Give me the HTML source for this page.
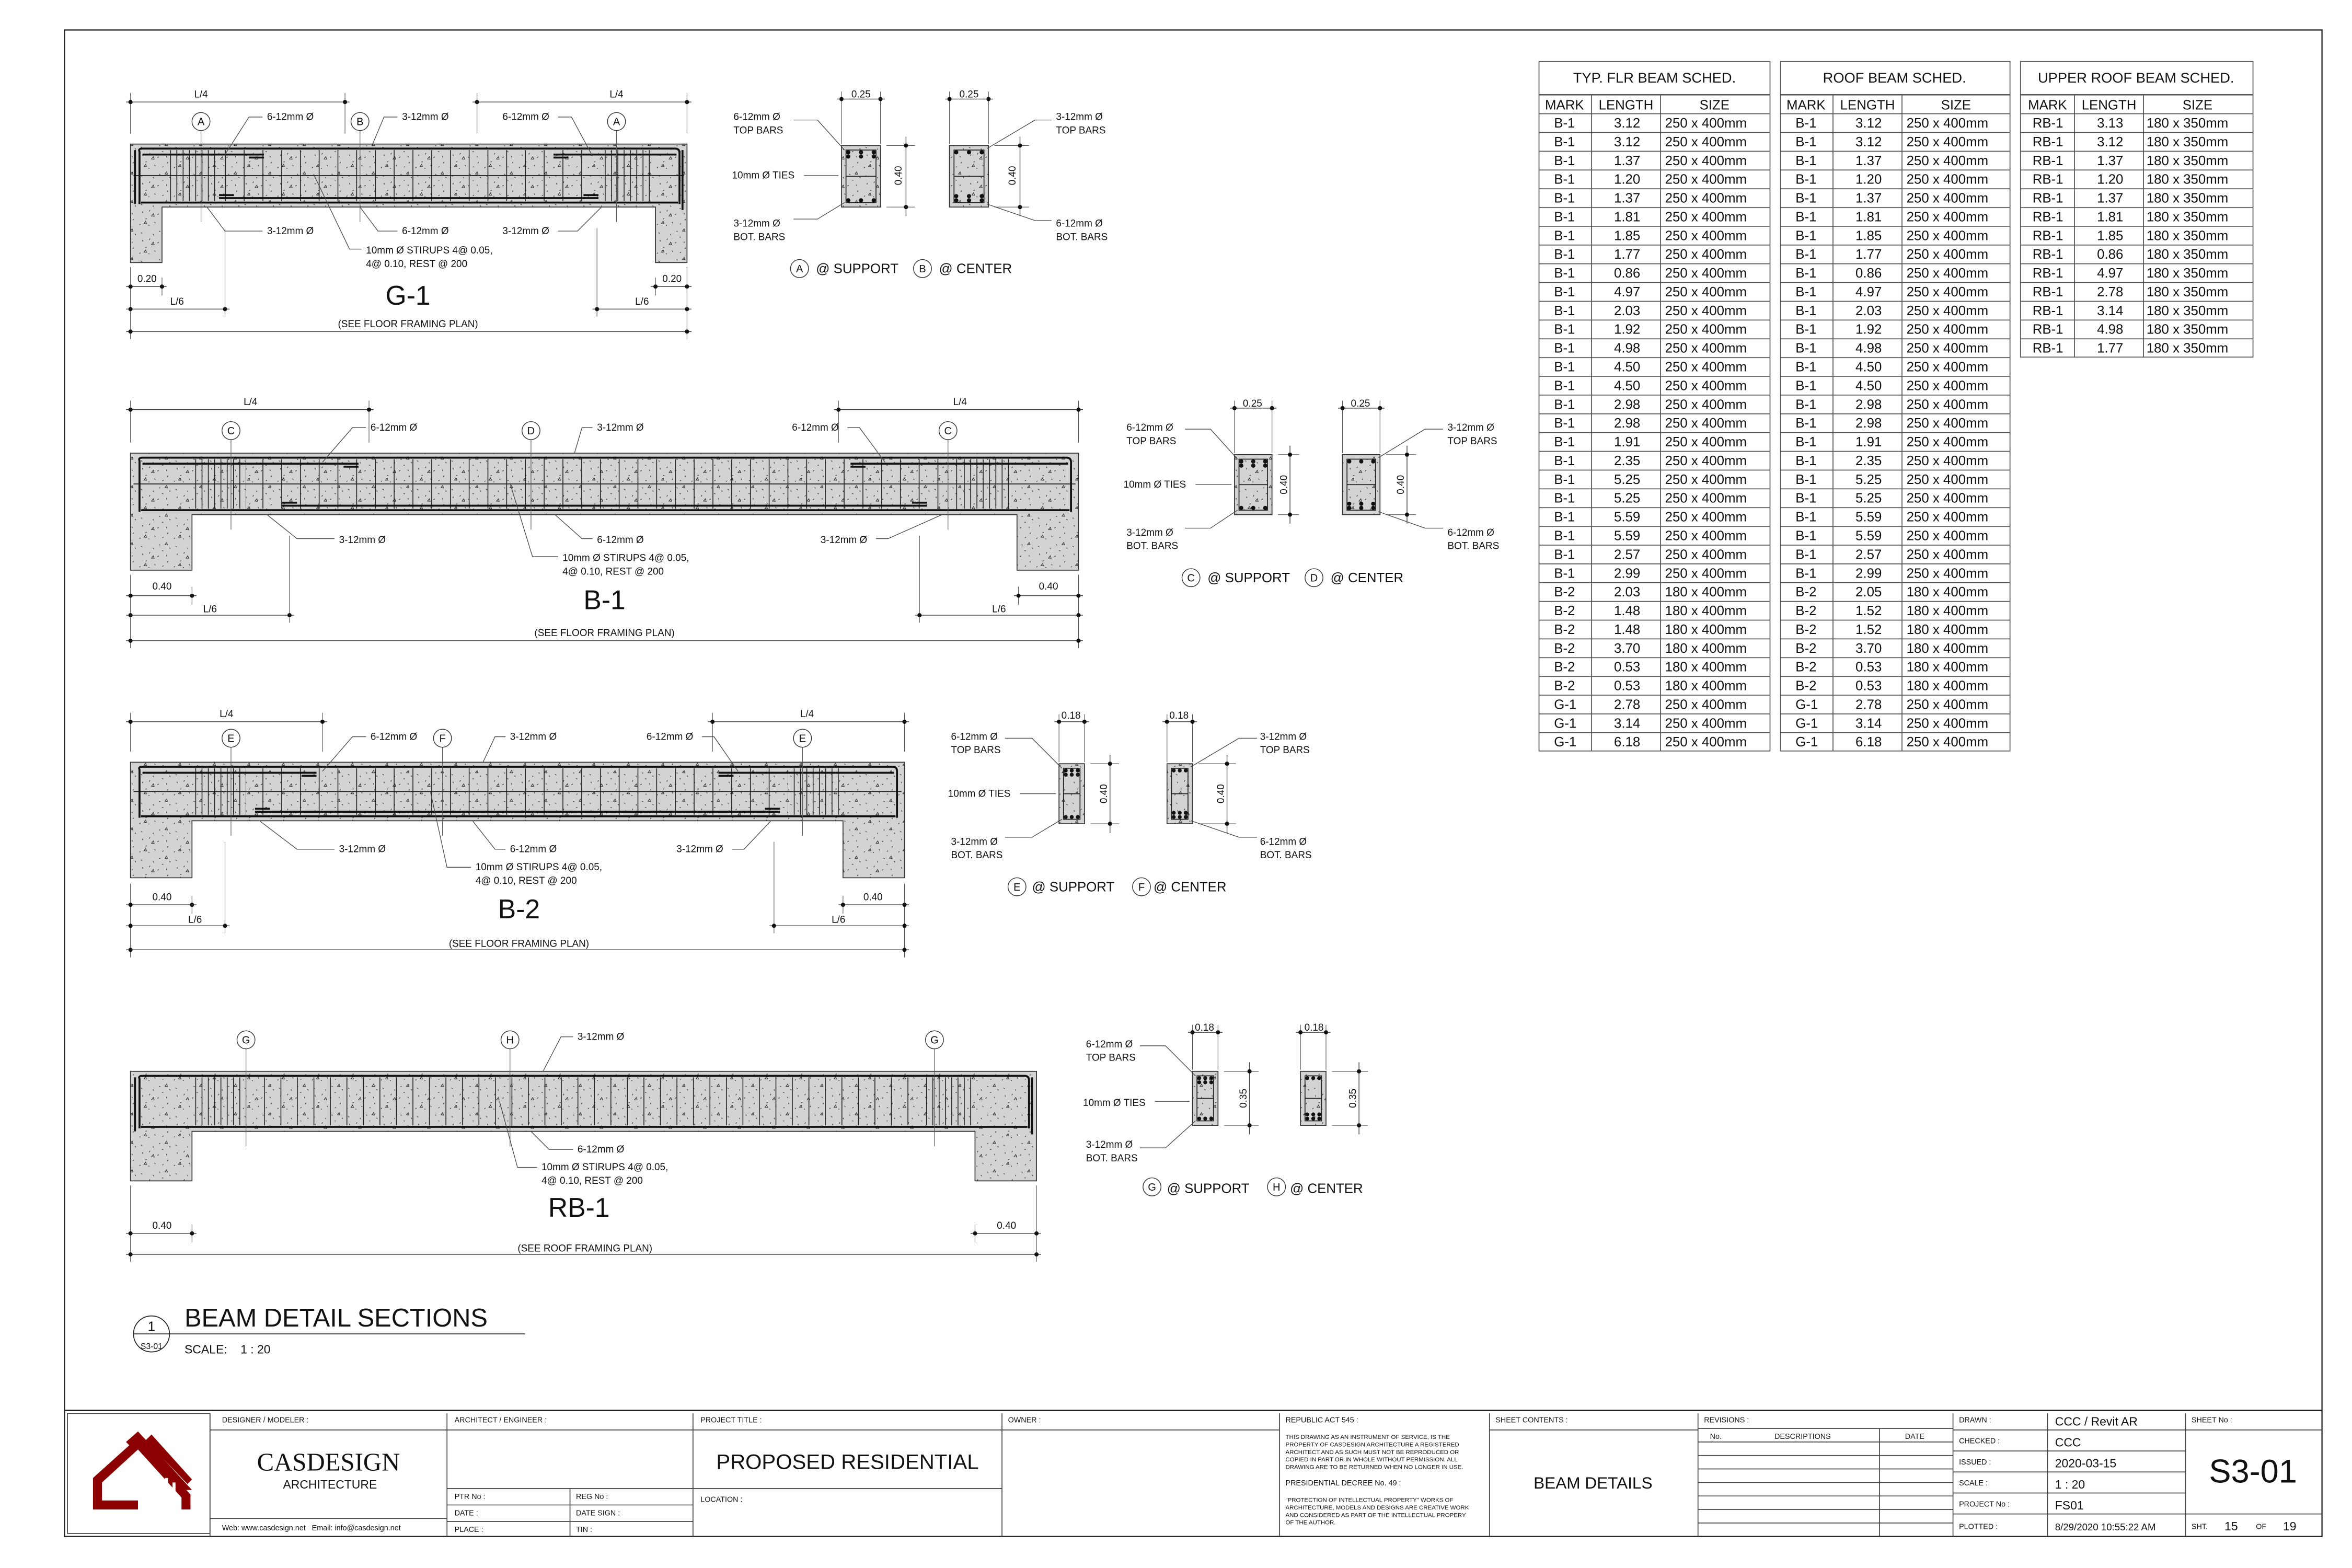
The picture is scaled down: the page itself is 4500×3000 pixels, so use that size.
<!DOCTYPE html>
<html><head><meta charset="utf-8">
<style>
html,body{margin:0;padding:0;background:#fff}
svg{display:block}
text{font-family:"Liberation Sans",Arial,sans-serif;fill:#111}
.s{font-size:6.6px}
.t{font-size:9px}
.ce{text-anchor:middle}
.ld{stroke:#444;stroke-width:.45;fill:none}
.ex{stroke:#555;stroke-width:.4;fill:none}
.dm{stroke:#444;stroke-width:.5;fill:none}
.rb{stroke:#111;stroke-width:1.3;fill:none}
.cn{fill:url(#conc);stroke:#333;stroke-width:.6}
.bb{fill:#fff;stroke:#333;stroke-width:.5}
.tl{stroke:#555;stroke-width:.6;fill:none}
</style></head><body>
<svg width="4500" height="3000" viewBox="0 0 1568 1045" preserveAspectRatio="none" xmlns="http://www.w3.org/2000/svg">
<defs>
<pattern id="conc" patternUnits="userSpaceOnUse" width="23" height="19">
<rect width="23" height="19" fill="#d3d3d3"/>
<path d="M2 3l.9 .6M8 7l-.5 .9M14 2l.8 .3M19 9l.2 .9M5 13l.9 -.3M11 15l.5 .8M17 16l-.7 .5M21 4l.6 .6M3 8l.2 .9M13 10l.8 -.5M7 17l.6 .3M20 13l-.4 .8M10 4l.3 .8M16 6l.9 .1M1 17l.6 -.6" stroke="#222" stroke-width=".4"/>
<path d="M9 11l1.2 -1.6l.6 1.7zM18 2l1.1 -1.5l.6 1.6zM4 16l1.1 -1.5l.6 1.6z" stroke="#222" stroke-width=".35" fill="none"/>
</pattern>
<pattern id="st4" patternUnits="userSpaceOnUse" x="0" width="4.2" height="10"><rect x="0" width=".55" height="10" fill="#222"/></pattern>
<pattern id="st12" patternUnits="userSpaceOnUse" width="12.5" height="10"><rect x="0" width=".55" height="10" fill="#222"/></pattern>
<pattern id="st10" patternUnits="userSpaceOnUse" width="11" height="10"><rect x="0" width=".55" height="10" fill="#222"/></pattern>
<pattern id="rows" patternUnits="userSpaceOnUse" x="0" y="63" width="10" height="12.5"><rect width="10" height=".6" fill="#555"/></pattern>
<circle id="d" r="1.4" fill="#111"/>
</defs>
<rect width="1568" height="1045" fill="#fff"/>
<rect x="43" y="20" width="1505" height="1004" fill="none" stroke="#222" stroke-width="0.8"/>
<line x1="43" y1="940" x2="1548" y2="940" stroke="#222" stroke-width="1"/>

<!-- ===== G-1 ===== -->
<path class="cn" d="M87 96H458V175H437V138H108V175H87Z"/>
<rect x="110" y="100" width="34" height="34" fill="url(#st4)"/>
<rect x="401" y="100" width="34" height="34" fill="url(#st4)"/>
<rect x="146" y="100" width="254" height="34" fill="url(#st12)"/>
<line x1="89" y1="117" x2="456" y2="117" stroke="#222" stroke-width=".6"/>
<path class="rb" d="M93 136V101Q92 99 95 99H450Q453 99 453 102V136M94 135H452M95 103H176M369 103H451M146 132H399M166 105H176M369 105H379M146 130H156M389 130H399M90 100V136M455 100V140"/>
<g class="dm"><path d="M84 68H233M315 68H461M84 191H111M434 191H461M84 206H153M395 206H461M84 221H461"/></g>
<g class="ex"><path d="M87 62V89M230 62V89M318 62V89M458 62V89M87 178V226M458 178V226M108 185V197M437 185V197M150 152V211M398 152V211"/></g>
<g><use href="#d" x="87" y="68"/><use href="#d" x="230" y="68"/><use href="#d" x="318" y="68"/><use href="#d" x="458" y="68"/>
<use href="#d" x="87" y="191"/><use href="#d" x="108" y="191"/><use href="#d" x="437" y="191"/><use href="#d" x="458" y="191"/>
<use href="#d" x="87" y="206"/><use href="#d" x="150" y="206"/><use href="#d" x="398" y="206"/><use href="#d" x="458" y="206"/>
<use href="#d" x="87" y="221"/><use href="#d" x="458" y="221"/></g>
<path class="ex" d="M134 87V148M240 87V148M411 87V148"/>
<path class="ld" d="M175 78H166L150 103M265 78H256L248 97M372 78H381L395 104M175 154H150L138 138M265 154H252L240 138M372 154H385L401 138M241 166H233L209 116"/>

<!-- ===== B-1 ===== -->
<path class="cn" d="M87 302H719V380H678V343H128V380H87Z"/>
<rect x="130" y="306" width="34" height="33" fill="url(#st4)"/>
<rect x="642" y="306" width="34" height="33" fill="url(#st4)"/>
<rect x="166" y="306" width="475" height="33" fill="url(#st12)"/>
<line x1="89" y1="322.5" x2="717" y2="322.5" stroke="#222" stroke-width=".6"/>
<path class="rb" d="M93 341V307Q92 305 95 305H711Q714 305 714 308V341M94 340H713M95 309H239M567 309H712M188 337H618M229 311H239M567 311H577M188 335H198M608 335H618"/>
<g class="dm"><path d="M84 273H249M556 273H722M84 397H131M676 397H722M84 410H196M610 410H722M84 427H722"/></g>
<g class="ex"><path d="M87 267V295M246 267V295M559 267V295M719 267V295M87 383V432M719 383V432M128 391V403M679 391V403M193 357V415M613 357V415"/></g>
<g><use href="#d" x="87" y="273"/><use href="#d" x="246" y="273"/><use href="#d" x="559" y="273"/><use href="#d" x="719" y="273"/>
<use href="#d" x="87" y="397"/><use href="#d" x="128" y="397"/><use href="#d" x="679" y="397"/><use href="#d" x="719" y="397"/>
<use href="#d" x="87" y="410"/><use href="#d" x="193" y="410"/><use href="#d" x="613" y="410"/><use href="#d" x="719" y="410"/>
<use href="#d" x="87" y="427"/><use href="#d" x="719" y="427"/></g>
<path class="ex" d="M154 293V353M354 293V353M632 293V353"/>
<path class="ld" d="M244 285H235L215 308M395 285H388L383 302M565 285H573L590 308M223 359H198L178 343M395 359H388L370 343M584 359H592L628 343M372 371H355L340 322"/>

<!-- ===== B-2 ===== -->
<path class="cn" d="M87 508H603V585H562V547H128V585H87Z"/>
<rect x="130" y="512" width="34" height="31" fill="url(#st4)"/>
<rect x="526" y="512" width="34" height="31" fill="url(#st4)"/>
<rect x="166" y="512" width="359" height="31" fill="url(#st12)"/>
<line x1="89" y1="527.5" x2="601" y2="527.5" stroke="#222" stroke-width=".6"/>
<path class="rb" d="M93 545V513Q92 511 95 511H595Q598 511 598 514V545M94 544H597M95 515H211M479 515H596M170 541H520M201 517H211M479 517H489M170 539H180M510 539H520"/>
<g class="dm"><path d="M84 481H218M472 481H606M84 603H131M559 603H606M84 617H153M513 617H606M84 633H606"/></g>
<g class="ex"><path d="M87 475V501M215 475V501M475 475V501M603 475V501M87 589V638M603 589V638M128 597V609M562 597V609M150 561V622M516 561V622"/></g>
<g><use href="#d" x="87" y="481"/><use href="#d" x="215" y="481"/><use href="#d" x="475" y="481"/><use href="#d" x="603" y="481"/>
<use href="#d" x="87" y="603"/><use href="#d" x="128" y="603"/><use href="#d" x="562" y="603"/><use href="#d" x="603" y="603"/>
<use href="#d" x="87" y="617"/><use href="#d" x="150" y="617"/><use href="#d" x="516" y="617"/><use href="#d" x="603" y="617"/>
<use href="#d" x="87" y="633"/><use href="#d" x="603" y="633"/></g>
<path class="ex" d="M154 498V557M295 498V557M535 498V557"/>
<path class="ld" d="M244 491H235L215 514M337 491H330L322 508M468 491H476L492 514M223 566H198L173 547M337 566H330L315 547M488 566H496L514 547M314 578H298L287 528"/>

<!-- ===== RB-1 ===== -->
<path class="cn" d="M87 714H691V787H650V754H128V787H87Z"/>
<rect x="130" y="718" width="34" height="32" fill="url(#st4)"/>
<rect x="615" y="718" width="34" height="32" fill="url(#st4)"/>
<rect x="166" y="718" width="448" height="32" fill="url(#st10)"/>
<path class="rb" d="M93 752V719Q92 717 95 717H683Q686 717 686 720V752M94 751H685M90 718V754M688 718V756"/>
<g class="dm"><path d="M84 822H131M647 822H694M84 836H694"/></g>
<g class="ex"><path d="M87 790V841M691 790V841M128 816V828M650 816V828"/></g>
<g><use href="#d" x="87" y="822"/><use href="#d" x="128" y="822"/><use href="#d" x="650" y="822"/><use href="#d" x="691" y="822"/>
<use href="#d" x="87" y="836"/><use href="#d" x="691" y="836"/></g>
<path class="ex" d="M164 699V764M340 699V764M623 699V764"/>
<path class="ld" d="M382 691H374L362 714M382 766H366L354 754M358 778H345L333 734"/>

<!-- ===== sections ===== -->
<rect class="cn" x="561" y="97" width="26" height="41"/>
<rect x="564" y="100" width="20" height="35" fill="none" stroke="#222" stroke-width=".6"/>
<line x1="564" y1="117.5" x2="584" y2="117.5" stroke="#222" stroke-width=".6"/>
<g fill="#111"><circle cx="565.5" cy="101.5" r="1.4"/><circle cx="574" cy="101.5" r="1.4"/><circle cx="582.5" cy="101.5" r="1.4"/><circle cx="565.5" cy="104.3" r="1.4"/><circle cx="574" cy="104.3" r="1.4"/><circle cx="582.5" cy="104.3" r="1.4"/><circle cx="565.5" cy="133.5" r="1.4"/><circle cx="574" cy="133.5" r="1.4"/><circle cx="582.5" cy="133.5" r="1.4"/></g>
<rect class="cn" x="633" y="97" width="26" height="41"/>
<rect x="636" y="100" width="20" height="35" fill="none" stroke="#222" stroke-width=".6"/>
<line x1="636" y1="117.5" x2="656" y2="117.5" stroke="#222" stroke-width=".6"/>
<g fill="#111"><circle cx="637.5" cy="101.5" r="1.4"/><circle cx="646" cy="101.5" r="1.4"/><circle cx="654.5" cy="101.5" r="1.4"/><circle cx="637.5" cy="133.5" r="1.4"/><circle cx="646" cy="133.5" r="1.4"/><circle cx="654.5" cy="133.5" r="1.4"/><circle cx="637.5" cy="130.7" r="1.4"/><circle cx="646" cy="130.7" r="1.4"/><circle cx="654.5" cy="130.7" r="1.4"/></g>
<path class="dm" d="M558 66H590M630 66H662M604 91V144M680 91V144"/>
<path class="ex" d="M561 61V96M587 61V96M633 61V96M659 61V96M591 97H610M591 138H610M663 97H686M663 138H686"/>
<g><use href="#d" x="561" y="66"/><use href="#d" x="587" y="66"/><use href="#d" x="633" y="66"/><use href="#d" x="659" y="66"/><use href="#d" x="604" y="97"/><use href="#d" x="604" y="138"/><use href="#d" x="680" y="97"/><use href="#d" x="680" y="138"/></g>
<path class="ld" d="M529 80H545L563 100M536 117H559M529 146H545L563 135M701 80H690L658 99M701 147H690L658 136"/>

<rect class="cn" x="823" y="303" width="25" height="40"/>
<rect x="826" y="306" width="19" height="34" fill="none" stroke="#222" stroke-width=".6"/>
<line x1="826" y1="323" x2="845" y2="323" stroke="#222" stroke-width=".6"/>
<g fill="#111"><circle cx="827.5" cy="307.5" r="1.4"/><circle cx="835.5" cy="307.5" r="1.4"/><circle cx="843.5" cy="307.5" r="1.4"/><circle cx="827.5" cy="310.3" r="1.4"/><circle cx="835.5" cy="310.3" r="1.4"/><circle cx="843.5" cy="310.3" r="1.4"/><circle cx="827.5" cy="338.5" r="1.4"/><circle cx="835.5" cy="338.5" r="1.4"/><circle cx="843.5" cy="338.5" r="1.4"/></g>
<rect class="cn" x="895" y="303" width="25" height="40"/>
<rect x="898" y="306" width="19" height="34" fill="none" stroke="#222" stroke-width=".6"/>
<line x1="898" y1="323" x2="917" y2="323" stroke="#222" stroke-width=".6"/>
<g fill="#111"><circle cx="899.5" cy="307.5" r="1.4"/><circle cx="907.5" cy="307.5" r="1.4"/><circle cx="915.5" cy="307.5" r="1.4"/><circle cx="899.5" cy="338.5" r="1.4"/><circle cx="907.5" cy="338.5" r="1.4"/><circle cx="915.5" cy="338.5" r="1.4"/><circle cx="899.5" cy="335.7" r="1.4"/><circle cx="907.5" cy="335.7" r="1.4"/><circle cx="915.5" cy="335.7" r="1.4"/></g>
<path class="dm" d="M820 272H851M892 272H923M860 297V349M938 297V349"/>
<path class="ex" d="M823 267V302M848 267V302M895 267V302M920 267V302M852 303H866M852 343H866M924 303H944M924 343H944"/>
<g><use href="#d" x="823" y="272"/><use href="#d" x="848" y="272"/><use href="#d" x="895" y="272"/><use href="#d" x="920" y="272"/><use href="#d" x="860" y="303"/><use href="#d" x="860" y="343"/><use href="#d" x="938" y="303"/><use href="#d" x="938" y="343"/></g>
<path class="ld" d="M790 286H807L825 306M797 323H821M790 352H807L825 340M962 286H950L919 305M962 352H950L919 341"/>

<rect class="cn" x="706" y="509" width="17" height="40"/>
<rect x="709" y="512" width="11" height="34" fill="none" stroke="#222" stroke-width=".6"/>
<line x1="709" y1="529" x2="720" y2="529" stroke="#222" stroke-width=".6"/>
<g fill="#111"><circle cx="710.5" cy="513.5" r="1.3"/><circle cx="714.5" cy="513.5" r="1.3"/><circle cx="718.5" cy="513.5" r="1.3"/><circle cx="710.5" cy="516.3" r="1.3"/><circle cx="714.5" cy="516.3" r="1.3"/><circle cx="718.5" cy="516.3" r="1.3"/><circle cx="710.5" cy="544.5" r="1.3"/><circle cx="714.5" cy="544.5" r="1.3"/><circle cx="718.5" cy="544.5" r="1.3"/></g>
<rect class="cn" x="778" y="509" width="17" height="40"/>
<rect x="781" y="512" width="11" height="34" fill="none" stroke="#222" stroke-width=".6"/>
<line x1="781" y1="529" x2="792" y2="529" stroke="#222" stroke-width=".6"/>
<g fill="#111"><circle cx="782.5" cy="513.5" r="1.3"/><circle cx="786.5" cy="513.5" r="1.3"/><circle cx="790.5" cy="513.5" r="1.3"/><circle cx="782.5" cy="544.5" r="1.3"/><circle cx="786.5" cy="544.5" r="1.3"/><circle cx="790.5" cy="544.5" r="1.3"/><circle cx="782.5" cy="541.7" r="1.3"/><circle cx="786.5" cy="541.7" r="1.3"/><circle cx="790.5" cy="541.7" r="1.3"/></g>
<path class="dm" d="M703 481H726M775 481H798M740 503V555M818 503V555"/>
<path class="ex" d="M706 476V508M723 476V508M778 476V508M795 476V508M727 509H746M727 549H746M799 509H824M799 549H824"/>
<g><use href="#d" x="706" y="481"/><use href="#d" x="723" y="481"/><use href="#d" x="778" y="481"/><use href="#d" x="795" y="481"/><use href="#d" x="740" y="509"/><use href="#d" x="740" y="549"/><use href="#d" x="818" y="509"/><use href="#d" x="818" y="549"/></g>
<path class="ld" d="M670 492H688L708 512M680 529H704M670 558H688L708 546M838 492H826L794 511M838 558H826L794 547"/>

<rect class="cn" x="795" y="714" width="17" height="36"/>
<rect x="798" y="717" width="11" height="30" fill="none" stroke="#222" stroke-width=".6"/>
<line x1="798" y1="732" x2="809" y2="732" stroke="#222" stroke-width=".6"/>
<g fill="#111"><circle cx="799.5" cy="718.5" r="1.3"/><circle cx="803.5" cy="718.5" r="1.3"/><circle cx="807.5" cy="718.5" r="1.3"/><circle cx="799.5" cy="721.3" r="1.3"/><circle cx="803.5" cy="721.3" r="1.3"/><circle cx="807.5" cy="721.3" r="1.3"/><circle cx="799.5" cy="745.5" r="1.3"/><circle cx="803.5" cy="745.5" r="1.3"/><circle cx="807.5" cy="745.5" r="1.3"/></g>
<rect class="cn" x="867" y="714" width="17" height="36"/>
<rect x="870" y="717" width="11" height="30" fill="none" stroke="#222" stroke-width=".6"/>
<line x1="870" y1="732" x2="881" y2="732" stroke="#222" stroke-width=".6"/>
<g fill="#111"><circle cx="871.5" cy="718.5" r="1.3"/><circle cx="875.5" cy="718.5" r="1.3"/><circle cx="879.5" cy="718.5" r="1.3"/><circle cx="871.5" cy="745.5" r="1.3"/><circle cx="875.5" cy="745.5" r="1.3"/><circle cx="879.5" cy="745.5" r="1.3"/><circle cx="871.5" cy="742.7" r="1.3"/><circle cx="875.5" cy="742.7" r="1.3"/><circle cx="879.5" cy="742.7" r="1.3"/></g>
<path class="dm" d="M792 688H815M864 688H887M833 708V756M906 708V756"/>
<path class="ex" d="M795 683V713M812 683V713M867 683V713M884 683V713M816 714H839M816 750H839M888 714H912M888 750H912"/>
<g><use href="#d" x="795" y="688"/><use href="#d" x="812" y="688"/><use href="#d" x="867" y="688"/><use href="#d" x="884" y="688"/><use href="#d" x="833" y="714"/><use href="#d" x="833" y="750"/><use href="#d" x="906" y="714"/><use href="#d" x="906" y="750"/></g>
<path class="ld" d="M760 697H777L797 717M770 734H793M760 765H777L797 747"/>

<!-- bubbles -->
<g class="bb">
<circle cx="134" cy="81" r="6"/><circle cx="240" cy="81" r="6"/><circle cx="411" cy="81" r="6"/>
<circle cx="154" cy="287" r="6"/><circle cx="354" cy="287" r="6"/><circle cx="632" cy="287" r="6"/>
<circle cx="154" cy="492" r="6"/><circle cx="295" cy="492" r="6"/><circle cx="535" cy="492" r="6"/>
<circle cx="164" cy="693" r="6"/><circle cx="340" cy="693" r="6"/><circle cx="623" cy="693" r="6"/>
<circle cx="533" cy="179" r="6"/><circle cx="615" cy="179" r="6"/><circle cx="794" cy="385" r="6"/><circle cx="876" cy="385" r="6"/>
<circle cx="678" cy="591" r="6"/><circle cx="761" cy="591" r="6"/><circle cx="768" cy="791" r="6"/><circle cx="851" cy="791" r="6"/>
</g>
<g class="ce" style="font-size:7px">
<text x="134" y="83.5">A</text><text x="240" y="83.5">B</text><text x="411" y="83.5">A</text>
<text x="154" y="289.5">C</text><text x="354" y="289.5">D</text><text x="632" y="289.5">C</text>
<text x="154" y="494.5">E</text><text x="295" y="494.5">F</text><text x="535" y="494.5">E</text>
<text x="164" y="695.5">G</text><text x="340" y="695.5">H</text><text x="623" y="695.5">G</text>
<text x="533" y="181.5">A</text><text x="615" y="181.5">B</text><text x="794" y="387.5">C</text><text x="876" y="387.5">D</text>
<text x="678" y="593.5">E</text><text x="761" y="593.5">F</text><text x="768" y="793.5">G</text><text x="851" y="793.5">H</text>
</g>

<g class="s">
<text x="178" y="80">6-12mm Ø</text><text x="268" y="80">3-12mm Ø</text><text x="335" y="80">6-12mm Ø</text>
<text x="178" y="156">3-12mm Ø</text><text x="268" y="156">6-12mm Ø</text><text x="335" y="156">3-12mm Ø</text>
<text x="244" y="169">10mm Ø STIRUPS 4@ 0.05,</text><text x="244" y="178">4@ 0.10, REST @ 200</text>
<text x="134" y="65" class="ce">L/4</text><text x="411" y="65" class="ce">L/4</text>
<text x="98" y="188" class="ce">0.20</text><text x="448" y="188" class="ce">0.20</text>
<text x="118" y="203" class="ce">L/6</text><text x="428" y="203" class="ce">L/6</text>
<text x="272" y="218" class="ce">(SEE FLOOR FRAMING PLAN)</text>
</g>
<text x="272" y="203" class="ce" style="font-size:18px">G-1</text>
<g class="s">
<text x="247" y="287">6-12mm Ø</text><text x="398" y="287">3-12mm Ø</text><text x="528" y="287">6-12mm Ø</text>
<text x="226" y="362">3-12mm Ø</text><text x="398" y="362">6-12mm Ø</text><text x="547" y="362">3-12mm Ø</text>
<text x="375" y="374">10mm Ø STIRUPS 4@ 0.05,</text><text x="375" y="383">4@ 0.10, REST @ 200</text>
<text x="167" y="270" class="ce">L/4</text><text x="640" y="270" class="ce">L/4</text>
<text x="108" y="393" class="ce">0.40</text><text x="699" y="393" class="ce">0.40</text>
<text x="140" y="408" class="ce">L/6</text><text x="666" y="408" class="ce">L/6</text>
<text x="403" y="424" class="ce">(SEE FLOOR FRAMING PLAN)</text>
</g>
<text x="403" y="406" class="ce" style="font-size:18px">B-1</text>
<g class="s">
<text x="247" y="493">6-12mm Ø</text><text x="340" y="493">3-12mm Ø</text><text x="431" y="493">6-12mm Ø</text>
<text x="226" y="568">3-12mm Ø</text><text x="340" y="568">6-12mm Ø</text><text x="451" y="568">3-12mm Ø</text>
<text x="317" y="580">10mm Ø STIRUPS 4@ 0.05,</text><text x="317" y="589">4@ 0.10, REST @ 200</text>
<text x="151" y="478" class="ce">L/4</text><text x="538" y="478" class="ce">L/4</text>
<text x="108" y="600" class="ce">0.40</text><text x="582" y="600" class="ce">0.40</text>
<text x="130" y="615" class="ce">L/6</text><text x="559" y="615" class="ce">L/6</text>
<text x="346" y="631" class="ce">(SEE FLOOR FRAMING PLAN)</text>
</g>
<text x="346" y="612" class="ce" style="font-size:18px">B-2</text>
<g class="s">
<text x="385" y="693">3-12mm Ø</text><text x="385" y="768">6-12mm Ø</text>
<text x="361" y="780">10mm Ø STIRUPS 4@ 0.05,</text><text x="361" y="789">4@ 0.10, REST @ 200</text>
<text x="108" y="819" class="ce">0.40</text><text x="671" y="819" class="ce">0.40</text>
<text x="390" y="834" class="ce">(SEE ROOF FRAMING PLAN)</text>
</g>
<text x="386" y="811" class="ce" style="font-size:18px">RB-1</text>

<g class="s">
<text x="489" y="80">6-12mm Ø</text><text x="489" y="89">TOP BARS</text><text x="488" y="119">10mm Ø TIES</text>
<text x="489" y="151">3-12mm Ø</text><text x="489" y="160">BOT. BARS</text>
<text x="704" y="80">3-12mm Ø</text><text x="704" y="89">TOP BARS</text>
<text x="704" y="151">6-12mm Ø</text><text x="704" y="160">BOT. BARS</text>
<text x="574" y="65" class="ce">0.25</text><text x="646" y="65" class="ce">0.25</text>
<text transform="translate(601,117) rotate(-90)" class="ce">0.40</text>
<text transform="translate(677,117) rotate(-90)" class="ce">0.40</text>
<text x="751" y="287">6-12mm Ø</text><text x="751" y="296">TOP BARS</text><text x="749" y="325">10mm Ø TIES</text>
<text x="751" y="357">3-12mm Ø</text><text x="751" y="366">BOT. BARS</text>
<text x="965" y="287">3-12mm Ø</text><text x="965" y="296">TOP BARS</text>
<text x="965" y="357">6-12mm Ø</text><text x="965" y="366">BOT. BARS</text>
<text x="835" y="271" class="ce">0.25</text><text x="907" y="271" class="ce">0.25</text>
<text transform="translate(858,323) rotate(-90)" class="ce">0.40</text>
<text transform="translate(936,323) rotate(-90)" class="ce">0.40</text>
<text x="634" y="493">6-12mm Ø</text><text x="634" y="502">TOP BARS</text><text x="632" y="531">10mm Ø TIES</text>
<text x="634" y="563">3-12mm Ø</text><text x="634" y="572">BOT. BARS</text>
<text x="840" y="493">3-12mm Ø</text><text x="840" y="502">TOP BARS</text>
<text x="840" y="563">6-12mm Ø</text><text x="840" y="572">BOT. BARS</text>
<text x="714" y="479" class="ce">0.18</text><text x="786" y="479" class="ce">0.18</text>
<text transform="translate(738,529) rotate(-90)" class="ce">0.40</text>
<text transform="translate(816,529) rotate(-90)" class="ce">0.40</text>
<text x="724" y="698">6-12mm Ø</text><text x="724" y="707">TOP BARS</text><text x="722" y="737">10mm Ø TIES</text>
<text x="724" y="765">3-12mm Ø</text><text x="724" y="774">BOT. BARS</text>
<text x="803" y="687" class="ce">0.18</text><text x="876" y="687" class="ce">0.18</text>
<text transform="translate(831,732) rotate(-90)" class="ce">0.35</text>
<text transform="translate(904,732) rotate(-90)" class="ce">0.35</text>
</g>
<g style="font-size:9px">
<text x="544" y="182">@ SUPPORT</text><text x="626" y="182">@ CENTER</text>
<text x="805" y="388">@ SUPPORT</text><text x="887" y="388">@ CENTER</text>
<text x="688" y="594">@ SUPPORT</text><text x="769" y="594">@ CENTER</text>
<text x="778" y="795">@ SUPPORT</text><text x="860" y="795">@ CENTER</text>
</g>

<circle cx="101" cy="889" r="12" fill="none" stroke="#222" stroke-width="0.6"/>
<line x1="89" y1="889" x2="350" y2="889" stroke="#222" stroke-width="0.6"/>
<text x="101" y="887" class="ce" style="font-size:9px">1</text>
<text x="101" y="899" class="ce" style="font-size:5.5px">S3-01</text>
<text x="123" y="884" style="font-size:17px">BEAM DETAIL SECTIONS</text>
<text x="123" y="902" style="font-size:8px">SCALE:&#160;&#160;&#160;&#160;1 : 20</text>

<rect x="1026" y="63" width="154" height="437.5" fill="url(#rows)"/>
<rect x="1187" y="63" width="153" height="437.5" fill="url(#rows)"/>
<rect x="1347" y="63" width="155" height="175" fill="url(#rows)"/>
<g class="tl">
<rect x="1026" y="41" width="154" height="459.5"/><line x1="1026" y1="63" x2="1180" y2="63"/>
<path d="M1061 63V500.5M1107 63V500.5"/>
<rect x="1187" y="41" width="153" height="459.5"/><line x1="1187" y1="63" x2="1340" y2="63"/>
<path d="M1222 63V500.5M1268 63V500.5"/>
<rect x="1347" y="41" width="155" height="197"/><line x1="1347" y1="63" x2="1502" y2="63"/>
<path d="M1383 63V238M1429 63V238"/>
</g>
<g class="t">
<text x="1103" y="55" class="ce" style="font-size:9.5px">TYP. FLR BEAM SCHED.</text>
<text x="1263" y="55" class="ce" style="font-size:9.5px">ROOF BEAM SCHED.</text>
<text x="1424" y="55" class="ce" style="font-size:9.5px">UPPER ROOF BEAM SCHED.</text>
<text x="1043" y="73" class="ce">MARK</text><text x="1084" y="73" class="ce">LENGTH</text><text x="1143" y="73" class="ce">SIZE</text>
<text x="1204" y="73" class="ce">MARK</text><text x="1245" y="73" class="ce">LENGTH</text><text x="1304" y="73" class="ce">SIZE</text>
<text x="1365" y="73" class="ce">MARK</text><text x="1406" y="73" class="ce">LENGTH</text><text x="1465" y="73" class="ce">SIZE</text>
</g>
<g class="t">
<text x="1036" y="85">B-1</text><text x="1076" y="85">3.12</text><text x="1110" y="85">250 x 400mm</text>
<text x="1036" y="97.5">B-1</text><text x="1076" y="97.5">3.12</text><text x="1110" y="97.5">250 x 400mm</text>
<text x="1036" y="110">B-1</text><text x="1076" y="110">1.37</text><text x="1110" y="110">250 x 400mm</text>
<text x="1036" y="122.5">B-1</text><text x="1076" y="122.5">1.20</text><text x="1110" y="122.5">250 x 400mm</text>
<text x="1036" y="135">B-1</text><text x="1076" y="135">1.37</text><text x="1110" y="135">250 x 400mm</text>
<text x="1036" y="147.5">B-1</text><text x="1076" y="147.5">1.81</text><text x="1110" y="147.5">250 x 400mm</text>
<text x="1036" y="160">B-1</text><text x="1076" y="160">1.85</text><text x="1110" y="160">250 x 400mm</text>
<text x="1036" y="172.5">B-1</text><text x="1076" y="172.5">1.77</text><text x="1110" y="172.5">250 x 400mm</text>
<text x="1036" y="185">B-1</text><text x="1076" y="185">0.86</text><text x="1110" y="185">250 x 400mm</text>
<text x="1036" y="197.5">B-1</text><text x="1076" y="197.5">4.97</text><text x="1110" y="197.5">250 x 400mm</text>
<text x="1036" y="210">B-1</text><text x="1076" y="210">2.03</text><text x="1110" y="210">250 x 400mm</text>
<text x="1036" y="222.5">B-1</text><text x="1076" y="222.5">1.92</text><text x="1110" y="222.5">250 x 400mm</text>
<text x="1036" y="235">B-1</text><text x="1076" y="235">4.98</text><text x="1110" y="235">250 x 400mm</text>
<text x="1036" y="247.5">B-1</text><text x="1076" y="247.5">4.50</text><text x="1110" y="247.5">250 x 400mm</text>
<text x="1036" y="260">B-1</text><text x="1076" y="260">4.50</text><text x="1110" y="260">250 x 400mm</text>
<text x="1036" y="272.5">B-1</text><text x="1076" y="272.5">2.98</text><text x="1110" y="272.5">250 x 400mm</text>
<text x="1036" y="285">B-1</text><text x="1076" y="285">2.98</text><text x="1110" y="285">250 x 400mm</text>
<text x="1036" y="297.5">B-1</text><text x="1076" y="297.5">1.91</text><text x="1110" y="297.5">250 x 400mm</text>
<text x="1036" y="310">B-1</text><text x="1076" y="310">2.35</text><text x="1110" y="310">250 x 400mm</text>
<text x="1036" y="322.5">B-1</text><text x="1076" y="322.5">5.25</text><text x="1110" y="322.5">250 x 400mm</text>
<text x="1036" y="335">B-1</text><text x="1076" y="335">5.25</text><text x="1110" y="335">250 x 400mm</text>
<text x="1036" y="347.5">B-1</text><text x="1076" y="347.5">5.59</text><text x="1110" y="347.5">250 x 400mm</text>
<text x="1036" y="360">B-1</text><text x="1076" y="360">5.59</text><text x="1110" y="360">250 x 400mm</text>
<text x="1036" y="372.5">B-1</text><text x="1076" y="372.5">2.57</text><text x="1110" y="372.5">250 x 400mm</text>
<text x="1036" y="385">B-1</text><text x="1076" y="385">2.99</text><text x="1110" y="385">250 x 400mm</text>
<text x="1036" y="397.5">B-2</text><text x="1076" y="397.5">2.03</text><text x="1110" y="397.5">180 x 400mm</text>
<text x="1036" y="410">B-2</text><text x="1076" y="410">1.48</text><text x="1110" y="410">180 x 400mm</text>
<text x="1036" y="422.5">B-2</text><text x="1076" y="422.5">1.48</text><text x="1110" y="422.5">180 x 400mm</text>
<text x="1036" y="435">B-2</text><text x="1076" y="435">3.70</text><text x="1110" y="435">180 x 400mm</text>
<text x="1036" y="447.5">B-2</text><text x="1076" y="447.5">0.53</text><text x="1110" y="447.5">180 x 400mm</text>
<text x="1036" y="460">B-2</text><text x="1076" y="460">0.53</text><text x="1110" y="460">180 x 400mm</text>
<text x="1036" y="472.5">G-1</text><text x="1076" y="472.5">2.78</text><text x="1110" y="472.5">250 x 400mm</text>
<text x="1036" y="485">G-1</text><text x="1076" y="485">3.14</text><text x="1110" y="485">250 x 400mm</text>
<text x="1036" y="497.5">G-1</text><text x="1076" y="497.5">6.18</text><text x="1110" y="497.5">250 x 400mm</text>
</g>
<g class="t">
<text x="1197" y="85">B-1</text><text x="1237" y="85">3.12</text><text x="1271" y="85">250 x 400mm</text>
<text x="1197" y="97.5">B-1</text><text x="1237" y="97.5">3.12</text><text x="1271" y="97.5">250 x 400mm</text>
<text x="1197" y="110">B-1</text><text x="1237" y="110">1.37</text><text x="1271" y="110">250 x 400mm</text>
<text x="1197" y="122.5">B-1</text><text x="1237" y="122.5">1.20</text><text x="1271" y="122.5">250 x 400mm</text>
<text x="1197" y="135">B-1</text><text x="1237" y="135">1.37</text><text x="1271" y="135">250 x 400mm</text>
<text x="1197" y="147.5">B-1</text><text x="1237" y="147.5">1.81</text><text x="1271" y="147.5">250 x 400mm</text>
<text x="1197" y="160">B-1</text><text x="1237" y="160">1.85</text><text x="1271" y="160">250 x 400mm</text>
<text x="1197" y="172.5">B-1</text><text x="1237" y="172.5">1.77</text><text x="1271" y="172.5">250 x 400mm</text>
<text x="1197" y="185">B-1</text><text x="1237" y="185">0.86</text><text x="1271" y="185">250 x 400mm</text>
<text x="1197" y="197.5">B-1</text><text x="1237" y="197.5">4.97</text><text x="1271" y="197.5">250 x 400mm</text>
<text x="1197" y="210">B-1</text><text x="1237" y="210">2.03</text><text x="1271" y="210">250 x 400mm</text>
<text x="1197" y="222.5">B-1</text><text x="1237" y="222.5">1.92</text><text x="1271" y="222.5">250 x 400mm</text>
<text x="1197" y="235">B-1</text><text x="1237" y="235">4.98</text><text x="1271" y="235">250 x 400mm</text>
<text x="1197" y="247.5">B-1</text><text x="1237" y="247.5">4.50</text><text x="1271" y="247.5">250 x 400mm</text>
<text x="1197" y="260">B-1</text><text x="1237" y="260">4.50</text><text x="1271" y="260">250 x 400mm</text>
<text x="1197" y="272.5">B-1</text><text x="1237" y="272.5">2.98</text><text x="1271" y="272.5">250 x 400mm</text>
<text x="1197" y="285">B-1</text><text x="1237" y="285">2.98</text><text x="1271" y="285">250 x 400mm</text>
<text x="1197" y="297.5">B-1</text><text x="1237" y="297.5">1.91</text><text x="1271" y="297.5">250 x 400mm</text>
<text x="1197" y="310">B-1</text><text x="1237" y="310">2.35</text><text x="1271" y="310">250 x 400mm</text>
<text x="1197" y="322.5">B-1</text><text x="1237" y="322.5">5.25</text><text x="1271" y="322.5">250 x 400mm</text>
<text x="1197" y="335">B-1</text><text x="1237" y="335">5.25</text><text x="1271" y="335">250 x 400mm</text>
<text x="1197" y="347.5">B-1</text><text x="1237" y="347.5">5.59</text><text x="1271" y="347.5">250 x 400mm</text>
<text x="1197" y="360">B-1</text><text x="1237" y="360">5.59</text><text x="1271" y="360">250 x 400mm</text>
<text x="1197" y="372.5">B-1</text><text x="1237" y="372.5">2.57</text><text x="1271" y="372.5">250 x 400mm</text>
<text x="1197" y="385">B-1</text><text x="1237" y="385">2.99</text><text x="1271" y="385">250 x 400mm</text>
<text x="1197" y="397.5">B-2</text><text x="1237" y="397.5">2.05</text><text x="1271" y="397.5">180 x 400mm</text>
<text x="1197" y="410">B-2</text><text x="1237" y="410">1.52</text><text x="1271" y="410">180 x 400mm</text>
<text x="1197" y="422.5">B-2</text><text x="1237" y="422.5">1.52</text><text x="1271" y="422.5">180 x 400mm</text>
<text x="1197" y="435">B-2</text><text x="1237" y="435">3.70</text><text x="1271" y="435">180 x 400mm</text>
<text x="1197" y="447.5">B-2</text><text x="1237" y="447.5">0.53</text><text x="1271" y="447.5">180 x 400mm</text>
<text x="1197" y="460">B-2</text><text x="1237" y="460">0.53</text><text x="1271" y="460">180 x 400mm</text>
<text x="1197" y="472.5">G-1</text><text x="1237" y="472.5">2.78</text><text x="1271" y="472.5">250 x 400mm</text>
<text x="1197" y="485">G-1</text><text x="1237" y="485">3.14</text><text x="1271" y="485">250 x 400mm</text>
<text x="1197" y="497.5">G-1</text><text x="1237" y="497.5">6.18</text><text x="1271" y="497.5">250 x 400mm</text>
</g>
<g class="t">
<text x="1355" y="85">RB-1</text><text x="1398" y="85">3.13</text><text x="1431" y="85">180 x 350mm</text>
<text x="1355" y="97.5">RB-1</text><text x="1398" y="97.5">3.12</text><text x="1431" y="97.5">180 x 350mm</text>
<text x="1355" y="110">RB-1</text><text x="1398" y="110">1.37</text><text x="1431" y="110">180 x 350mm</text>
<text x="1355" y="122.5">RB-1</text><text x="1398" y="122.5">1.20</text><text x="1431" y="122.5">180 x 350mm</text>
<text x="1355" y="135">RB-1</text><text x="1398" y="135">1.37</text><text x="1431" y="135">180 x 350mm</text>
<text x="1355" y="147.5">RB-1</text><text x="1398" y="147.5">1.81</text><text x="1431" y="147.5">180 x 350mm</text>
<text x="1355" y="160">RB-1</text><text x="1398" y="160">1.85</text><text x="1431" y="160">180 x 350mm</text>
<text x="1355" y="172.5">RB-1</text><text x="1398" y="172.5">0.86</text><text x="1431" y="172.5">180 x 350mm</text>
<text x="1355" y="185">RB-1</text><text x="1398" y="185">4.97</text><text x="1431" y="185">180 x 350mm</text>
<text x="1355" y="197.5">RB-1</text><text x="1398" y="197.5">2.78</text><text x="1431" y="197.5">180 x 350mm</text>
<text x="1355" y="210">RB-1</text><text x="1398" y="210">3.14</text><text x="1431" y="210">180 x 350mm</text>
<text x="1355" y="222.5">RB-1</text><text x="1398" y="222.5">4.98</text><text x="1431" y="222.5">180 x 350mm</text>
<text x="1355" y="235">RB-1</text><text x="1398" y="235">1.77</text><text x="1431" y="235">180 x 350mm</text>
</g>

<g stroke="#444" stroke-width="0.6" fill="none">
<rect x="45" y="942" width="95" height="80"/>
<line x1="140" y1="942" x2="140" y2="1024"/>
<line x1="298" y1="942" x2="298" y2="1024"/><line x1="462" y1="942" x2="462" y2="1024"/>
<line x1="668" y1="942" x2="668" y2="1024"/><line x1="853" y1="942" x2="853" y2="1024"/>
<line x1="993" y1="942" x2="993" y2="1024"/><line x1="1132" y1="942" x2="1132" y2="1024"/>
<line x1="1302" y1="942" x2="1302" y2="1024"/><line x1="1365" y1="942" x2="1365" y2="1024"/>
<line x1="1457" y1="942" x2="1457" y2="1024"/>
<line x1="140" y1="953" x2="853" y2="953"/><line x1="993" y1="953" x2="1132" y2="953"/>
<line x1="1457" y1="953" x2="1548" y2="953"/>
<line x1="140" y1="1012" x2="298" y2="1012"/>
<line x1="462" y1="992" x2="668" y2="992"/>
<line x1="298" y1="992" x2="462" y2="992"/><line x1="298" y1="1003" x2="462" y2="1003"/><line x1="298" y1="1014" x2="462" y2="1014"/>
<line x1="380" y1="992" x2="380" y2="1024"/>
<line x1="1302" y1="953" x2="1457" y2="953"/><line x1="1302" y1="967" x2="1457" y2="967"/>
<line x1="1302" y1="981" x2="1457" y2="981"/><line x1="1302" y1="995" x2="1457" y2="995"/>
<line x1="1302" y1="1009" x2="1457" y2="1009"/>
<line x1="1457" y1="1009" x2="1548" y2="1009"/>
<line x1="1132" y1="952" x2="1302" y2="952"/><line x1="1132" y1="961" x2="1302" y2="961"/>
<line x1="1132" y1="970" x2="1302" y2="970"/><line x1="1132" y1="979" x2="1302" y2="979"/>
<line x1="1132" y1="988" x2="1302" y2="988"/><line x1="1132" y1="997" x2="1302" y2="997"/>
<line x1="1132" y1="1006" x2="1302" y2="1006"/><line x1="1132" y1="1015" x2="1302" y2="1015"/>
<line x1="1253" y1="952" x2="1253" y2="1024"/>
</g>
<g fill="#8b0000">
<polygon points="62,985 92,958 127,996 127,1006 121,1006 121,998 92,966 68,988 68,1006 62,1006"/>
<polygon points="84,961 92,954 128,993 124,993 92,959 87,964"/>
<polygon points="97,960 101,956 128,986 125,989"/>
<rect x="62" y="1000" width="30" height="6"/>
</g>
<rect x="110" y="985" width="2" height="21" fill="#fff"/>
<rect x="115" y="988" width="2" height="18" fill="#fff"/>
<g style="font-size:5px">
<text x="148" y="948">DESIGNER / MODELER :</text><text x="303" y="948">ARCHITECT / ENGINEER :</text>
<text x="467" y="948">PROJECT TITLE :</text><text x="672" y="948">OWNER :</text>
<text x="857" y="948">REPUBLIC ACT 545 :</text><text x="997" y="948">SHEET CONTENTS :</text>
<text x="1136" y="948">REVISIONS :</text><text x="1306" y="948">DRAWN :</text><text x="1461" y="948">SHEET No :</text>
<text x="1140" y="959">No.</text><text x="1183" y="959">DESCRIPTIONS</text><text x="1270" y="959">DATE</text>
<text x="1306" y="962">CHECKED :</text><text x="1306" y="976">ISSUED :</text><text x="1306" y="990">SCALE :</text>
<text x="1306" y="1004">PROJECT No :</text><text x="1306" y="1019">PLOTTED :</text>
<text x="303" y="999">PTR No :</text><text x="384" y="999">REG No :</text>
<text x="303" y="1010">DATE :</text><text x="384" y="1010">DATE SIGN :</text>
<text x="303" y="1021">PLACE :</text><text x="384" y="1021">TIN :</text>
<text x="467" y="1001">LOCATION :</text>
<text x="148" y="1020">Web: www.casdesign.net&#160;&#160;&#160;Email: info@casdesign.net</text>
<text x="1461" y="1019">SHT.</text><text x="1504" y="1019">OF</text>
<text x="857" y="990">PRESIDENTIAL DECREE No. 49 :</text>
</g>
<g style="font-size:4px">
<text x="857" y="959">THIS DRAWING AS AN INSTRUMENT OF SERVICE, IS THE</text>
<text x="857" y="964">PROPERTY OF CASDESIGN ARCHITECTURE A REGISTERED</text>
<text x="857" y="969">ARCHITECT AND AS SUCH MUST NOT BE REPRODUCED OR</text>
<text x="857" y="974">COPIED IN PART OR IN WHOLE WITHOUT PERMISSION. ALL</text>
<text x="857" y="979">DRAWING ARE TO BE RETURNED WHEN NO LONGER IN USE.</text>
<text x="857" y="1001">"PROTECTION OF INTELLECTUAL PROPERTY" WORKS OF</text>
<text x="857" y="1006">ARCHITECTURE, MODELS AND DESIGNS ARE CREATIVE WORK</text>
<text x="857" y="1011">AND CONSIDERED AS PART OF THE INTELLECTUAL PROPERY</text>
<text x="857" y="1016">OF THE AUTHOR.</text>
</g>
<text x="219" y="980" class="ce" style="font-family:'Liberation Serif',serif;font-size:17px">CASDESIGN</text>
<text x="220" y="992" class="ce" style="font-size:8px">ARCHITECTURE</text>
<text x="565" y="979" class="ce" style="font-size:14px">PROPOSED RESIDENTIAL</text>
<text x="1062" y="992" class="ce" style="font-size:11px">BEAM DETAILS</text>
<g style="font-size:8px">
<text x="1370" y="950">CCC / Revit AR</text><text x="1370" y="964">CCC</text><text x="1370" y="978">2020-03-15</text>
<text x="1370" y="992">1 : 20</text><text x="1370" y="1006">FS01</text>
<text x="1370" y="1020" style="font-size:6.5px">8/29/2020 10:55:22 AM</text>
<text x="1483" y="1020">15</text><text x="1522" y="1020">19</text>
</g>
<text x="1502" y="988" class="ce" style="font-size:22px">S3-01</text>
</svg>
</body></html>
